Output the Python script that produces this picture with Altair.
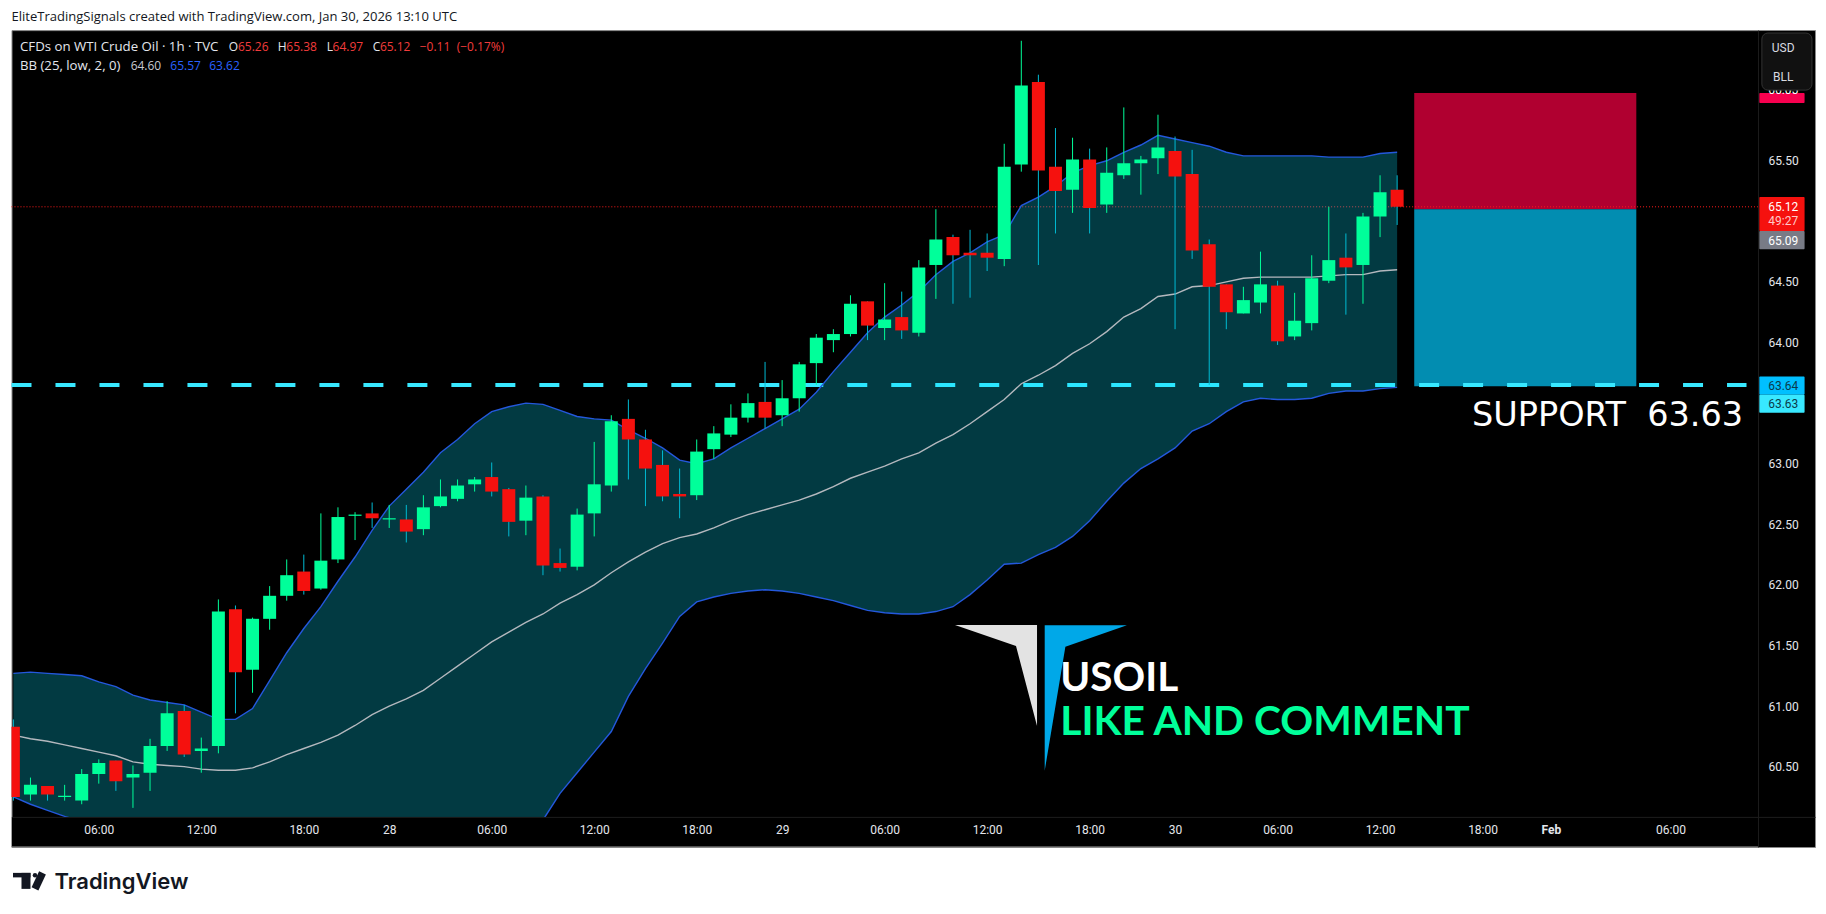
import altair as alt
import pandas as pd

# hourly candles
opens = [60.83, 60.27, 60.34, 60.25, 60.22, 60.44, 60.55, 60.41, 60.45, 60.67,
         60.96, 60.63, 60.67, 61.80, 61.30, 61.72, 61.91, 62.11, 61.97, 62.21,
         62.57, 62.59, 62.54, 62.54, 62.46, 62.65, 62.71, 62.83, 62.89, 62.79,
         62.53, 62.73, 62.18, 62.15, 62.59, 62.82, 63.37, 63.20, 62.99, 62.75,
         62.74, 63.12, 63.24, 63.38, 63.51, 63.40, 63.54, 63.83, 64.02, 64.07,
         64.34, 64.12, 64.21, 64.08, 64.64, 64.87, 64.74, 64.74, 64.69, 65.47,
         66.15, 65.45, 65.26, 65.51, 65.14, 65.38, 65.48, 65.52, 65.58, 65.39,
         64.81, 64.48, 64.24, 64.33, 64.47, 64.05, 64.16, 64.51, 64.70, 64.64,
         65.04, 65.26]
highs = [60.89, 60.41, 60.34, 60.35, 60.48, 60.56, 60.55, 60.51, 60.73, 61.04,
         61.01, 60.74, 61.88, 61.83, 61.73, 61.99, 62.21, 62.25, 62.59, 62.64,
         62.60, 62.68, 62.66, 62.66, 62.74, 62.87, 62.87, 62.89, 63.01, 62.80,
         62.82, 62.74, 62.30, 62.63, 63.18, 63.40, 63.53, 63.28, 63.11, 62.96,
         63.20, 63.31, 63.49, 63.58, 63.84, 63.69, 63.84, 64.07, 64.11, 64.39,
         64.34, 64.49, 64.42, 64.68, 65.10, 64.89, 64.93, 64.90, 65.64, 66.49,
         66.21, 65.77, 65.69, 65.60, 65.61, 65.94, 65.54, 65.88, 65.70, 65.59,
         64.85, 64.48, 64.46, 64.75, 64.51, 64.41, 64.72, 65.12, 64.90, 65.07,
         65.38, 65.38]
lows = [60.22, 60.22, 60.22, 60.22, 60.19, 60.36, 60.30, 60.16, 60.30, 60.63,
        60.58, 60.45, 60.61, 60.94, 61.11, 61.63, 61.87, 61.92, 61.96, 62.18,
        62.37, 62.47, 62.47, 62.35, 62.41, 62.64, 62.69, 62.77, 62.73, 62.40,
        62.41, 62.08, 62.11, 62.12, 62.40, 62.77, 62.87, 62.65, 62.69, 62.55,
        62.70, 63.04, 63.22, 63.34, 63.29, 63.31, 63.43, 63.65, 63.92, 64.05,
        64.02, 64.02, 64.03, 64.05, 64.36, 64.32, 64.37, 64.59, 64.63, 65.41,
        64.64, 64.90, 65.07, 64.90, 65.07, 65.35, 65.22, 65.39, 64.11, 64.69,
        63.65, 64.11, 64.24, 64.24, 63.98, 64.02, 64.10, 64.49, 64.23, 64.32,
        64.87, 64.97]
closes = [60.25, 60.35, 60.27, 60.26, 60.44, 60.53, 60.38, 60.44, 60.67, 60.94,
          60.60, 60.65, 61.78, 61.28, 61.72, 61.91, 62.08, 61.95, 62.20, 62.56,
          62.58, 62.55, 62.55, 62.44, 62.64, 62.73, 62.82, 62.87, 62.77, 62.52,
          62.72, 62.16, 62.14, 62.58, 62.83, 63.35, 63.20, 62.96, 62.73, 62.73,
          63.10, 63.25, 63.38, 63.50, 63.38, 63.54, 63.82, 64.04, 64.07, 64.32,
          64.14, 64.19, 64.10, 64.62, 64.85, 64.72, 64.72, 64.70, 65.45, 66.12,
          65.42, 65.25, 65.51, 65.11, 65.40, 65.48, 65.51, 65.61, 65.37, 64.76,
          64.46, 64.25, 64.35, 64.48, 64.01, 64.18, 64.53, 64.68, 64.62, 65.04,
          65.24, 65.12]

# bollinger bands
bb_upper = [61.27, 61.28, 61.27, 61.26, 61.25, 61.20, 61.16, 61.09, 61.05, 61.03,
            61.01, 60.95, 60.89, 60.89, 60.98, 61.21, 61.44, 61.64, 61.82, 62.03,
            62.23, 62.45, 62.65, 62.79, 62.93, 63.09, 63.20, 63.33, 63.43, 63.47,
            63.50, 63.49, 63.44, 63.39, 63.37, 63.36, 63.28, 63.21, 63.13, 63.03,
            63.00, 63.04, 63.13, 63.21, 63.29, 63.37, 63.45, 63.59, 63.76, 63.92,
            64.08, 64.21, 64.31, 64.42, 64.56, 64.67, 64.74, 64.83, 64.89, 65.13,
            65.20, 65.29, 65.40, 65.46, 65.50, 65.57, 65.63, 65.71, 65.68, 65.65,
            65.62, 65.57, 65.54, 65.54, 65.54, 65.54, 65.54, 65.53, 65.53, 65.53,
            65.56, 65.57]
bb_basis = [60.76, 60.73, 60.71, 60.68, 60.65, 60.62, 60.59, 60.54, 60.52, 60.51,
            60.50, 60.48, 60.47, 60.47, 60.49, 60.54, 60.60, 60.65, 60.70, 60.76,
            60.84, 60.93, 61.00, 61.06, 61.13, 61.23, 61.33, 61.43, 61.53, 61.61,
            61.69, 61.76, 61.85, 61.92, 62.00, 62.10, 62.19, 62.27, 62.34, 62.39,
            62.42, 62.47, 62.53, 62.58, 62.62, 62.66, 62.70, 62.75, 62.81, 62.88,
            62.93, 62.98, 63.04, 63.09, 63.17, 63.24, 63.33, 63.43, 63.53, 63.66,
            63.73, 63.81, 63.91, 63.99, 64.09, 64.21, 64.28, 64.38, 64.40, 64.46,
            64.47, 64.50, 64.53, 64.54, 64.54, 64.54, 64.54, 64.55, 64.56, 64.56,
            64.59, 64.60]
# the lower band runs under the time scale for bars 4-30, those are estimates
bb_lower = [60.25, 60.19, 60.14, 60.09, 60.05, 60.04, 60.02, 59.99, 59.99, 59.99,
            59.99, 60.01, 60.05, 60.05, 60.00, 59.87, 59.76, 59.66, 59.58, 59.49,
            59.45, 59.41, 59.35, 59.33, 59.33, 59.37, 59.46, 59.53, 59.63, 59.75,
            59.88, 60.06, 60.28, 60.45, 60.62, 60.79, 61.08, 61.31, 61.52, 61.74,
            61.86, 61.90, 61.93, 61.95, 61.96, 61.95, 61.93, 61.90, 61.87, 61.83,
            61.79, 61.77, 61.76, 61.76, 61.78, 61.82, 61.92, 62.04, 62.17, 62.18,
            62.25, 62.31, 62.40, 62.53, 62.69, 62.84, 62.96, 63.04, 63.13, 63.27,
            63.33, 63.43, 63.51, 63.54, 63.53, 63.53, 63.54, 63.58, 63.60, 63.60,
            63.62, 63.63]

time_ticks = [5, 11, 17, 22, 28, 34, 40, 45, 51, 57, 63, 68, 74, 80, 86, 90, 97]
time_labels = ["06:00", "12:00", "18:00", "28", "06:00", "12:00", "18:00", "29", "06:00",
               "12:00", "18:00", "30", "06:00", "12:00", "18:00", "Feb", "06:00"]
price_ticks = [60.5, 61.0, 61.5, 62.0, 62.5, 63.0, 64.0, 64.5, 65.5]

last_price = 65.12
support = 63.65

AXIS_FONT = "Roboto"
FONT = "Open Sans"
GREEN = "#00FF9A"
RED = "#F5110E"
CYAN_WICK = "#00BCD4"
BLUE = "#2458DC"

bars = pd.DataFrame({"i": range(len(opens)), "o": opens, "h": highs, "l": lows, "c": closes,
                     "up": bb_upper, "mid": bb_basis, "dn": bb_lower})
rising = bars["c"] >= bars["o"]
bars["wick_col"] = [GREEN if r else CYAN_WICK for r in rising]
bars["body_col"] = [GREEN if r else RED for r in rising]

x_axis = alt.Axis(values=time_ticks, title=None, orient="bottom", offset=-30, grid=False, ticks=False,
                  domainColor="#1c1c1c", labelColor="#E4E6EC", labelFont=AXIS_FONT, labelFontSize=12,
                  labelPadding=8, labelOverlap=False, zindex=1,
                  labelFontWeight=alt.condition("datum.value == 90", alt.value("bold"), alt.value("normal")),
                  labelExpr="%s[indexof(%s, datum.value)]" % (time_labels, time_ticks))
y_axis = alt.Axis(values=price_ticks, title=None, orient="right", offset=-57, grid=False, ticks=False,
                  domainColor="#1c1c1c", labelColor="#E4E6EC", labelFont=AXIS_FONT, labelFontSize=12,
                  labelPadding=10, labelOverlap=False, format=".2f", zindex=1)
x_scale = alt.Scale(domain=[-0.11, 105.46], nice=False, zero=False)
y_scale = alt.Scale(domain=[59.838, 66.578], nice=False, zero=False)


def X(field):
    return alt.X(field + ":Q", scale=x_scale, axis=x_axis)


def Y(field):
    return alt.Y(field + ":Q", scale=y_scale, axis=y_axis)


def boxes(rows, **mark):
    # rows: x, x2, price top, price bottom, colour
    df = pd.DataFrame(rows, columns=["x0", "x1", "p0", "p1", "col"])
    return alt.Chart(df).mark_rect(**mark).encode(
        X("x0"), alt.X2("x1"), Y("p0"), alt.Y2("p1"), alt.Color("col:N", scale=None))


def price_text(s, price, color="#FFFFFF", size=12):
    df = pd.DataFrame({"x": [103.6], "p": [price]})
    return alt.Chart(df).mark_text(font=AXIS_FONT, fontSize=size, color=color, align="center",
                                   baseline="middle").encode(X("x"), Y("p"), text=alt.value(s))


def label(s, x, y, color="#131722", size=12, font=FONT, align="left", baseline="middle", weight="normal"):
    return alt.Chart(bars.head(1)).mark_text(font=font, fontSize=size, color=color, align=align,
                                             baseline=baseline, fontWeight=weight).encode(
        x=alt.value(x), y=alt.value(y), text=alt.value(s))


# trade box
trade_box = boxes([[82, 95, 66.06, 65.10, "#B00030"], [82, 95, 65.10, 63.64, "#028DB1"]])

last_line = alt.Chart(pd.DataFrame({"x0": [-0.11], "x1": [102.12], "p": [last_price]})).mark_rule(
    color="#FF1A1A", strokeWidth=1, strokeDash=[1, 2]).encode(X("x0"), alt.X2("x1"), Y("p"))
support_line = alt.Chart(pd.DataFrame({"x0": [-0.11], "x1": [101.45], "p": [support]})).mark_rule(
    color="#38E8FF", strokeWidth=4, strokeDash=[20, 24]).encode(X("x0"), alt.X2("x1"), Y("p"))

band = alt.Chart(bars).mark_area(color="#08DFFE", opacity=0.26, clip=True).encode(X("i"), Y("dn"), alt.Y2("up"))
upper_line = alt.Chart(bars).mark_line(color=BLUE, strokeWidth=1.4, clip=True).encode(X("i"), Y("up"))
lower_line = alt.Chart(bars).mark_line(color=BLUE, strokeWidth=1.4, clip=True).encode(X("i"), Y("dn"))
mid_line = alt.Chart(bars).mark_line(color="#B4B8BE", strokeWidth=1.4, clip=True).encode(X("i"), Y("mid"))

wicks = alt.Chart(bars).mark_rule(strokeWidth=1, clip=True).encode(
    X("i"), Y("l"), alt.Y2("h"), alt.Color("wick_col:N", scale=None))
bodies = alt.Chart(bars).mark_rule(strokeWidth=13, clip=True).encode(
    X("i"), Y("o"), alt.Y2("c"), alt.Color("body_col:N", scale=None))

# logo behind the usoil text
logo_white = alt.Chart(pd.DataFrame({"x": [55.12, 58.69, 59.92], "t": [61.669, 61.669, 61.669],
                                     "b": [61.669, 61.496, 60.836]})).mark_area(color="#E3E3E3").encode(
    X("x"), Y("t"), alt.Y2("b"))
logo_blue = alt.Chart(pd.DataFrame({"x": [60.37, 61.58, 65.18], "t": [61.667, 61.667, 61.667],
                                    "b": [60.467, 61.490, 61.667]})).mark_area(color="#00A8E8").encode(
    X("x"), Y("t"), alt.Y2("b"))

# black strips of the two scales, they hide what runs under them
strips = boxes([[102.12, 105.42, 66.57, 59.838, "#000000"], [-0.09, 105.42, 60.085, 59.838, "#000000"]])
bottom_edge = alt.Chart(pd.DataFrame({"x0": [-0.11], "x1": [102.12], "p": [59.838]})).mark_rule(
    color="#8A8A8A", strokeWidth=1).encode(X("x0"), alt.X2("x1"), Y("p"))

tags = boxes([[102.2, 104.85, 66.059, 65.976, "#F7004F"],
              [102.2, 104.85, 65.20, 64.92, "#F5110E"],
              [102.2, 104.85, 64.92, 64.77, "#787B86"],
              [102.2, 104.85, 63.72, 63.57, "#00BFFF"],
              [102.2, 104.85, 63.57, 63.42, "#38E8FF"]], cornerRadius=1)
unit_box = boxes([[102.35, 105.28, 66.554, 66.083, "#111111"]], cornerRadius=6, stroke="#333333", strokeWidth=1)

layers = [trade_box, last_line, support_line, band, upper_line, lower_line, mid_line, wicks, bodies,
          logo_white, logo_blue, strips, bottom_edge, tags,
          price_text("66.05", 66.08),
          unit_box,
          price_text("USD", 66.43, "#D8DAE0"), price_text("BLL", 66.19, "#D8DAE0"),
          price_text("65.12", 65.12), price_text("49:27", 65.00, "#FFC9C9"),
          price_text("65.09", 64.84), price_text("63.64", 63.64, "#0B3A4A"), price_text("63.63", 63.49, "#0B3A4A"),
          # header and logo line outside the frame
          label("EliteTradingSignals created with TradingView.com, Jan 30, 2026 13:10 UTC", 0, -13.3, size=13.05),
          label("TradingView", 43, 859, size=22, font="Inter", baseline="alphabetic", weight=600),
          alt.Chart(bars.head(1)).mark_rect(color="#131722").encode(
              x=alt.value(1.5), x2=alt.value(19), y=alt.value(843), y2=alt.value(847.5)),
          alt.Chart(bars.head(1)).mark_rect(color="#131722").encode(
              x=alt.value(10), x2=alt.value(19), y=alt.value(843), y2=alt.value(859)),
          alt.Chart(bars.head(1)).mark_point(color="#131722", filled=True, opacity=1, size=20).encode(
              x=alt.value(23.5), y=alt.value(845.3)),
          alt.Chart(bars.head(1)).mark_rule(color="#131722", strokeWidth=7.5).encode(
              x=alt.value(31), x2=alt.value(23.5), y=alt.value(843), y2=alt.value(859)),
          # chart legend
          label("CFDs on WTI Crude Oil · 1h · TVC", 8.5, 16.7, "#E4E6EC", size=13.25),
          label("O", 217.3, 16.7, "#E4E6EC"), label("65.26", 226.5, 16.7, "#F23C3C"),
          label("H", 266.3, 16.7, "#E4E6EC"), label("65.38", 274.9, 16.7, "#F23C3C"),
          label("L", 315.3, 16.7, "#E4E6EC"), label("64.97", 321.2, 16.7, "#F23C3C"),
          label("C", 361.3, 16.7, "#E4E6EC"), label("65.12", 368.5, 16.7, "#F23C3C"),
          label("−0.11", 408.3, 16.7, "#F23C3C"), label("(−0.17%)", 445.3, 16.7, "#F23C3C"),
          label("BB (25, low, 2, 0)", 8.5, 35.7, "#E4E6EC", size=13.2), label("64.60", 119.2, 35.7, "#C8CAD0"),
          label("65.57", 158.9, 35.7, "#2962FF"), label("63.62", 197.8, 35.7, "#2962FF"),
          # big notes on the chart
          label("SUPPORT\u00a0\u00a063.63", 1732, 396, "#FFFFFF", size=33.5, font="DejaVu Sans", align="right",
                baseline="alphabetic"),
          label("USOIL", 1049, 660.7, "#FFFFFF", size=40.5, font="Lato", baseline="alphabetic", weight="bold"),
          label("LIKE AND COMMENT", 1049, 705, GREEN, size=40.8, font="Lato", baseline="alphabetic", weight="bold"),
          ]

chart = alt.layer(*layers).properties(
    width=1804, height=817, background="white",
    padding={"left": 3.5, "top": 22, "right": 3, "bottom": 60},
    autosize=alt.AutoSizeParams(type="none"),
).configure_view(fill="#000000", stroke="#8A8A8A")

chart.save("out.html", embed_options={"renderer": "svg", "actions": False})
